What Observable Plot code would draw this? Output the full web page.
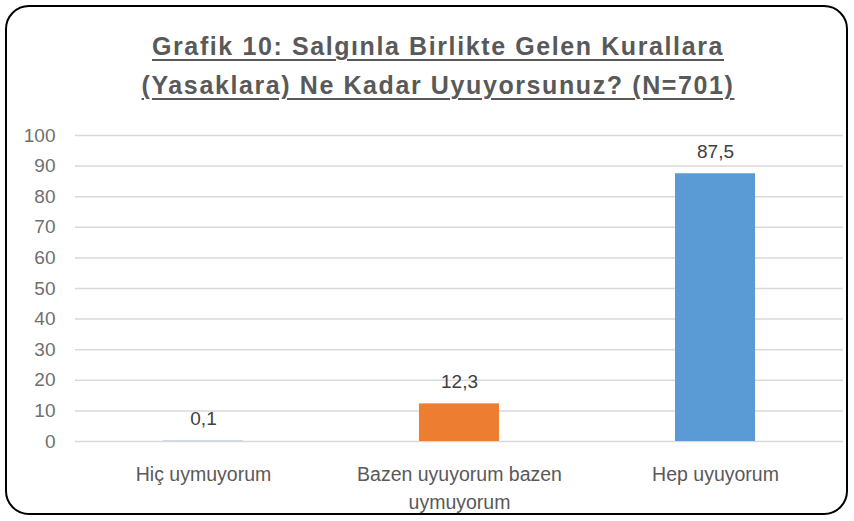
<!DOCTYPE html>
<html>
<head>
<meta charset="utf-8">
<script src="https://cdn.jsdelivr.net/npm/d3@7"></script>
<script src="https://cdn.jsdelivr.net/npm/@observablehq/plot@0.6"></script>
<style>
  body { margin: 0; background: #fff; }
  #wrap { position: relative; width: 854px; height: 521px; overflow: hidden; font-family: "Liberation Sans", Arial, sans-serif; }
  #frame { position: absolute; left: 5px; top: 5px; width: 843px; height: 510px; border: 2px solid #000; border-radius: 24px; box-sizing: border-box; pointer-events: none; }
  .t { position: absolute; left: 0; width: 876px; text-align: center; font-weight: bold; font-size: 25px; letter-spacing: 1.6px; color: #595959; text-decoration: underline; text-underline-offset: 4px; text-decoration-thickness: 2px; white-space: nowrap; }
  #chart { position: absolute; left: 0; top: 110px; }
</style>
</head>
<body>
<div id="wrap">
  <div class="t" id="t1" style="top:32px">Grafik 10: Salgınla Birlikte Gelen Kurallara</div>
  <div class="t" id="t2" style="top:71px">(Yasaklara) Ne Kadar Uyuyorsunuz? (N=701)</div>
  <div id="chart"></div>
  <div id="frame"></div>
</div>
<script>
const categories = ["Hiç uymuyorum", "Bazen uyuyorum bazen uymuyorum", "Hep uyuyorum"];
const categoryLabels = ["Hiç uymuyorum", "Bazen uyuyorum bazen\nuymuyorum", "Hep uyuyorum"];
const values = [0.1, 12.3, 87.5];
const colors = ["#5b9bd5", "#ed7d31", "#5b9bd5"];
const yTicks = [0, 10, 20, 30, 40, 50, 60, 70, 80, 90, 100];

const data = categories.map((c, i) => ({category: c, value: values[i], color: colors[i]}));
const labelOf = new Map(categories.map((c, i) => [c, categoryLabels[i]]));
const fmt = d => d.toFixed(1).replace(".", ",");

const chart = Plot.plot({
  width: 854,
  height: 411,
  marginTop: 25,
  marginBottom: 80,
  marginLeft: 75,
  marginRight: 11,
  style: {fontFamily: "'Liberation Sans', Arial, sans-serif", fontSize: "18px", color: "#595959", background: "transparent", overflow: "visible"},
  x: {domain: categories, paddingInner: 0.6875, paddingOuter: 0.34375},
  y: {domain: [0, 100]},
  marks: [
    Plot.ruleY(yTicks, {stroke: "#d9d9d9", strokeWidth: 1.5}),
    Plot.barY(data, {x: "category", y: "value", fill: "color"}),
    Plot.text(data, {x: "category", y: "value", text: d => fmt(d.value), dy: -22, fill: "#404040", fontSize: 19}),
    Plot.axisY(yTicks, {tickSize: 0, tickPadding: 20, label: null, fill: "#6f6f6f", fontSize: 19}),
    Plot.axisX({tickSize: 0, tickPadding: 19, label: null, tickFormat: d => labelOf.get(d), lineHeight: 1.45, fill: "#595959", fontSize: 19.5})
  ]
});
document.getElementById("chart").appendChild(chart);
</script>
</body>
</html>
